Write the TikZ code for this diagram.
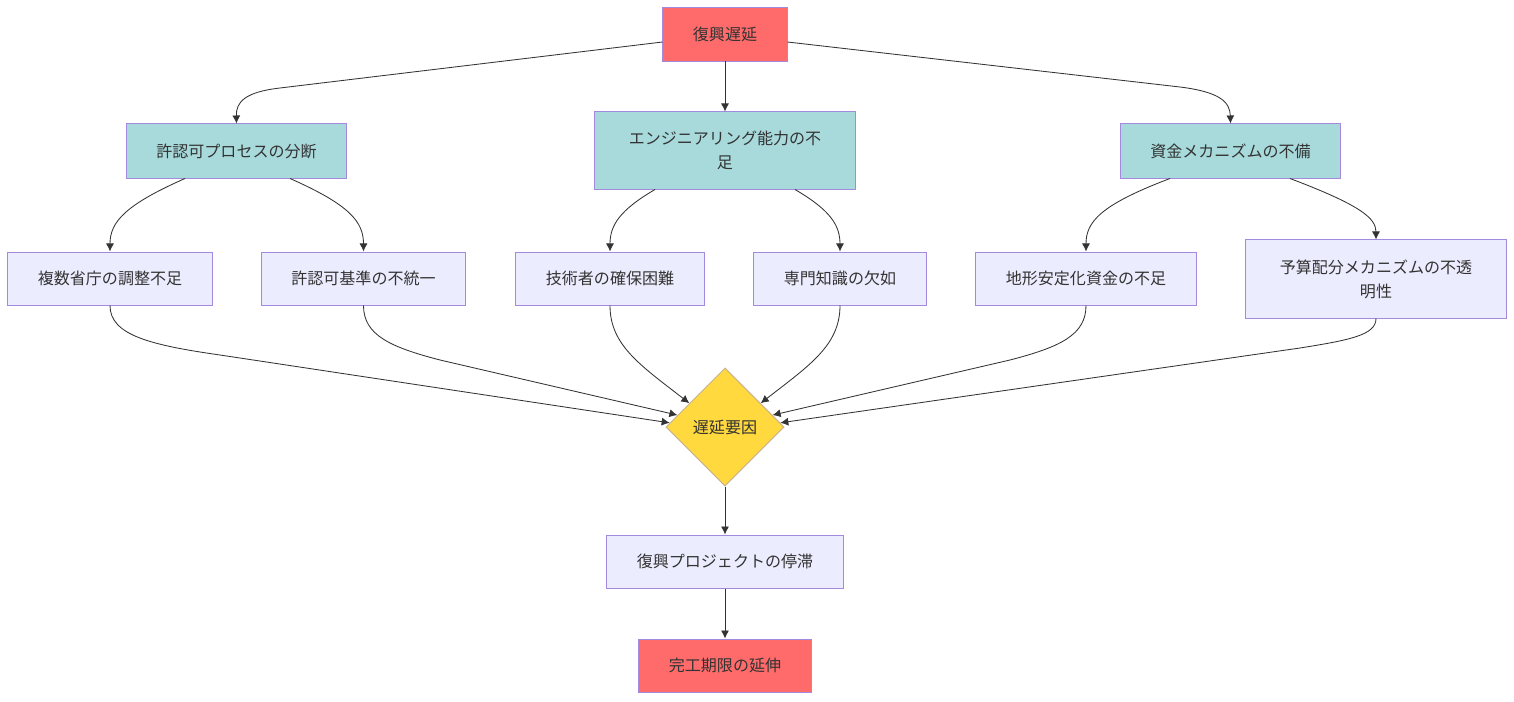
\documentclass[tikz,border=0pt]{standalone}
\usepackage{fontspec}
\usepackage{tikz}
\usetikzlibrary{arrows.meta,positioning,calc,shapes.geometric}
\newfontfamily\jpfont{Noto Sans CJK JP}
\definecolor{Ink}{HTML}{333333}
\definecolor{Coral}{HTML}{FF6B6B}
\definecolor{Aqua}{HTML}{A8DADC}
\definecolor{Lilac}{HTML}{ECECFF}
\definecolor{Edge}{HTML}{A48ADF}
\definecolor{Gold}{HTML}{FFD93D}
\definecolor{Tan}{HTML}{C9B38F}
\tikzset{
  arr/.style={-{Latex[length=2mm,width=2mm]},line width=0.6pt,draw=Ink},
  basebox/.style={draw=Edge,line width=0.7pt,text=Ink,align=center,inner sep=2pt,
    font={\jpfont\fontsize{11.4}{17}\selectfont}},
  redbox/.style={basebox,fill=Coral},
  tealbox/.style={basebox,fill=Aqua},
  lilacbox/.style={basebox,fill=Lilac},
  decision/.style={basebox,diamond,aspect=1,draw=Tan,fill=Gold,inner sep=0pt,
    minimum width=2.95cm,minimum height=2.95cm}
}
\begin{document}
\begin{tikzpicture}[x=0.025cm,y=-0.025cm]
  \useasboundingbox (0,0) rectangle (1514,702);
  \fill[white] (0,0) rectangle (1514,702);
  % top level
  \node[redbox,minimum width=3.1cm,minimum height=1.325cm] (top) at (725,34.5) {復興遅延};
  \node[tealbox,minimum width=5.475cm,minimum height=1.35cm] (a) at (236.5,151) {許認可プロセスの分断};
  \node[tealbox,minimum width=6.5cm,minimum height=1.925cm] (b) at (725,150.5) {エンジニアリング能力の不\\足};
  \node[tealbox,minimum width=5.475cm,minimum height=1.35cm] (c) at (1230.5,151) {資金メカニズムの不備};
  % causes
  \node[lilacbox,minimum width=5.1cm,minimum height=1.325cm] (a1) at (110,278.5) {複数省庁の調整不足};
  \node[lilacbox,minimum width=5.075cm,minimum height=1.325cm] (a2) at (363.5,278.5) {許認可基準の不統一};
  \node[lilacbox,minimum width=4.7cm,minimum height=1.325cm] (b1) at (610,278.5) {技術者の確保困難};
  \node[lilacbox,minimum width=4.3cm,minimum height=1.325cm] (b2) at (840,278.5) {専門知識の欠如};
  \node[lilacbox,minimum width=5.5cm,minimum height=1.325cm] (c1) at (1086,278.5) {地形安定化資金の不足};
  \node[lilacbox,minimum width=6.5cm,minimum height=1.95cm] (c2) at (1376,279) {予算配分メカニズムの不透\\明性};
  % merge and outcome
  \node[decision] (d) at (725,427) {遅延要因};
  \node[lilacbox,below=1.2cm of d,minimum width=5.9cm,minimum height=1.325cm] (e) {復興プロジェクトの停滞};
  \node[redbox,below=1.25cm of e,minimum width=4.3cm,minimum height=1.325cm] (f) {完工期限の延伸};

  \draw[arr] ($(top.west)+(0,7.5)$) -- (280,88) .. controls (245,92) and (236,102) .. (a.north);
  \draw[arr] (top.south) -- (b.north);
  \draw[arr] ($(top.east)+(0,7.5)$) -- (1180,87) .. controls (1220,92) and (1230,102) .. (c.north);

  \draw[arr] ($(a.south)+(-51.5,0)$) .. controls (125,205) and (110,222) .. (a1.north);
  \draw[arr] ($(a.south)+(53.5,0)$) .. controls (350,205) and (363.5,222) .. (a2.north);
  \draw[arr] ($(b.south)+(-70,0)$) .. controls (620,210) and (610,225) .. (b1.north);
  \draw[arr] ($(b.south)+(70,0)$) .. controls (830,210) and (840,225) .. (b2.north);
  \draw[arr] ($(c.south)+(-60.5,0)$) .. controls (1100,205) and (1086,222) .. (c1.north);
  \draw[arr] ($(c.south)+(59.5,0)$) .. controls (1360,205) and (1376,218) .. (c2.north);

  \draw[arr] (a1.south) .. controls (110,335) and (150,345) .. (220,355) -- ($(d.west)!0.07!(d.north)$);
  \draw[arr] (a2.south) .. controls (363.5,335) and (390,347) .. (440,360) -- ($(d.west)!0.2!(d.north)$);
  \draw[arr] (b1.south) .. controls (610,345) and (640,365) .. ($(d.west)!0.4!(d.north)$);
  \draw[arr] (b2.south) .. controls (840,345) and (810,365) .. ($(d.east)!0.4!(d.north)$);
  \draw[arr] (c1.south) .. controls (1086,335) and (1060,347) .. (1010,360) -- ($(d.east)!0.2!(d.north)$);
  \draw[arr] (c2.south) .. controls (1376,335) and (1350,340) .. (1300,348) -- ($(d.east)!0.07!(d.north)$);

  \draw[arr] (d.south) -- (e.north);
  \draw[arr] (e.south) -- (f.north);
\end{tikzpicture}
\end{document}
